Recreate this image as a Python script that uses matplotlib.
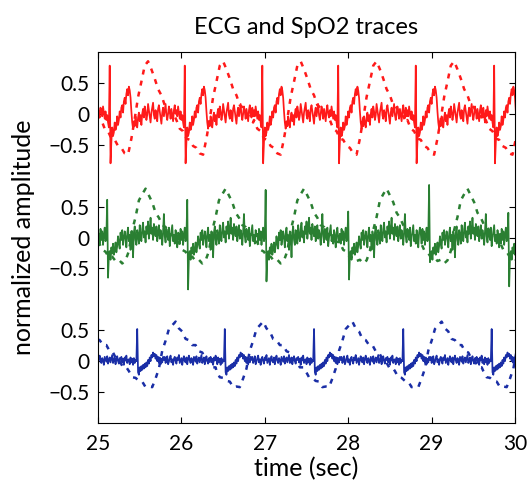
import numpy as np
import matplotlib
matplotlib.use('Agg')
import matplotlib.pyplot as plt

plt.rcParams['font.family'] = ['Lato', 'DejaVu Sans']

# R-peak times (sec) for each trace; first beat starts before the window
red_beats = [24.22, 25.14, 26.04, 26.97, 27.88, 28.81, 29.75]
green_beats = [24.15, 25.11, 26.07, 27.01, 28.00, 28.97, 29.92]
blue_beats = [24.40, 25.47, 26.52, 27.59, 28.66, 29.72]

# per-beat R and S amplitudes for the green ECG
green_r = [0.55, 0.61, 0.61, 0.77, 0.42, 0.85, 0.40]
green_s = [-0.60, -0.65, -0.84, -0.71, -0.68, -0.40, -0.79]

# one ECG beat, 0.01 s per sample, starting 0.10 s before the R peak
red_ecg = [0.06, -0.04, 0.12, 0.02, -0.08, 0.04, -0.10, -0.02, -0.14, -0.22,
           0.78, -0.80, -0.45, -0.22, -0.36, -0.30, -0.14, -0.26, -0.20, -0.04,
           -0.18, -0.10, 0.04, -0.06, 0.10, 0.14, 0.02, 0.20, 0.26, 0.16,
           0.32, 0.40, 0.30, 0.44, 0.38, 0.26, 0.04, -0.14, -0.24, -0.12,
           -0.20, -0.04, -0.16, -0.22, -0.06, 0.02, -0.12, -0.02, -0.18, 0.00,
           0.08,
           -0.06, 0.12, 0.04, -0.10, -0.02, 0.16, 0.06, -0.04, -0.14, 0.02,
           0.10, 0.18, -0.02, -0.08, 0.06, 0.00, -0.12, 0.08, 0.14, 0.04,
           -0.06, -0.16, 0.02, 0.10, -0.04, 0.06, 0.16, -0.02, -0.10, 0.00,
           0.12, 0.04, -0.08, 0.08, -0.02, -0.12, 0.06, 0.14, 0.00, -0.06,
           0.10, -0.04, -0.14, 0.04, 0.12, -0.02, 0.06]
green_ecg = [0.06, -0.10, 0.14, -0.04, 0.10, -0.12, 0.04, 0.16, -0.06, 0.02,
             0.60, -0.60,
             -0.30, -0.22, -0.36, -0.16, -0.26, -0.10, -0.28, -0.20, -0.08, -0.24,
             -0.14, 0.02, -0.10, -0.18, 0.08, -0.04, 0.12, -0.12, -0.02, 0.10,
             0.00, -0.16, 0.06, 0.16, -0.06, 0.04, -0.20, 0.10, 0.02, -0.32,
             0.08, 0.18, -0.04, -0.12, 0.12, 0.04, -0.10, 0.20, 0.02, -0.06,
             0.14, 0.24, 0.00, 0.10, -0.08, 0.18, 0.06, 0.26, -0.02, 0.12,
             0.32, 0.06, 0.16, -0.04, 0.22, 0.10, 0.02, 0.18, -0.06, 0.08,
             0.20, -0.02, 0.12, 0.04, -0.12, 0.10, 0.38, 0.02, -0.08, 0.14,
             0.06, -0.04, 0.16, -0.14, 0.00, 0.10, 0.20, -0.06, 0.04, -0.10,
             0.12, 0.02, -0.16, 0.08, 0.16, -0.02, -0.08, 0.10, 0.04, 0.14]
blue_ecg = [0.03, -0.05, 0.06, -0.02, 0.04, -0.06, 0.05, -0.03, 0.02, 0.00,
            0.52, -0.18,
            -0.22, -0.10, -0.16, -0.08, -0.14, -0.06, -0.12, -0.04, -0.10, -0.02,
            -0.08, 0.02, -0.04, 0.06, 0.00, 0.10, 0.06, 0.14, 0.08, 0.12,
            0.04, 0.10, 0.00, 0.07, -0.03, 0.06, -0.05, 0.04, -0.02, 0.07,
            0.02, 0.07, -0.03, 0.01, 0.08, -0.05, -0.01, 0.05, 0.09, -0.02,
            0.03, -0.06, 0.04, 0.07, 0.00, -0.04, 0.06, 0.02, 0.10, -0.03,
            0.01, 0.05, -0.06, 0.03, 0.08, 0.00, -0.02, 0.06, -0.05, 0.04,
            0.09, 0.01, -0.03, 0.05, 0.02, -0.06, 0.07, 0.03, -0.01, 0.08,
            -0.04, 0.02, 0.06, -0.02, 0.04, 0.10, -0.03, 0.01, 0.06, -0.05,
            0.03, 0.08, 0.00, -0.04, 0.05, 0.02, 0.07, -0.02, 0.04, -0.06,
            0.06, 0.01, 0.09, -0.03, 0.02, 0.05, -0.04, 0.06]

# one pulse-oximeter cycle, 0.04 s per sample, same start as the ECG beat
red_spo2 = [-0.10, -0.24, -0.28, -0.40, -0.42, -0.52, -0.55, -0.64, -0.66, -0.40,
            -0.08, 0.27, 0.52, 0.78, 0.85, 0.72, 0.57, 0.40, 0.30, 0.14,
            0.10, -0.02, -0.04, -0.14, -0.16, -0.26, -0.28]
green_spo2 = [-0.08, -0.20, -0.23, -0.32, -0.31, -0.38, -0.36, -0.42, -0.37, -0.22,
              0.12, 0.33, 0.60, 0.70, 0.79, 0.68, 0.57, 0.40, 0.32, 0.20,
              0.17, 0.06, 0.04, -0.06, -0.07, -0.14, -0.15, -0.22]
blue_spo2 = [-0.16, -0.26, -0.27, -0.32, -0.33, -0.42, -0.41, -0.42, -0.28, -0.12,
             0.17, 0.33, 0.52, 0.58, 0.64, 0.53, 0.48, 0.36, 0.34, 0.26,
             0.26, 0.16, 0.14, 0.03, 0.00, -0.10, -0.10, -0.18, -0.19, -0.26]

offsets = [2, 0, -2]
colors = ['#ff1a1a', '#2a7f32', '#1a2ea6']
tick_vals = [0.5, 0, -0.5]
tick_text = ['0.5', '0', '\u22120.5']


def assemble(beats, shape, step, r_amp=None, s_amp=None, start=-0.10):
    ts, vs = [], []
    for i, tb in enumerate(beats):
        offs = start + step * np.arange(len(shape))
        vals = np.array(shape, dtype=float)
        if r_amp is not None:
            vals[10] = r_amp[i]
            vals[11] = s_amp[i]
        if i < len(beats) - 1:
            keep = offs < beats[i + 1] - tb + start - 1e-9
            offs, vals = offs[keep], vals[keep]
        ts.append(tb + offs)
        vs.append(vals)
    return np.concatenate(ts), np.concatenate(vs)


traces = [
    (assemble(red_beats, red_ecg, 0.01), assemble(red_beats, red_spo2, 0.04)),
    (assemble(green_beats, green_ecg, 0.01, green_r, green_s),
     assemble(green_beats, green_spo2, 0.04)),
    (assemble(blue_beats, blue_ecg, 0.01), assemble(blue_beats, blue_spo2, 0.04)),
]

fig = plt.figure(figsize=(5.31, 4.93), dpi=100)
ax = fig.add_axes([0.1846, 0.142, 0.7853, 0.7525])

for (ecg, spo2), off, c in zip(traces, offsets, colors):
    ax.plot(ecg[0], ecg[1] + off, color=c, lw=1.25)
    ax.plot(spo2[0], spo2[1] + off, color=c, lw=1.8, ls=(0, (2.0, 2.5)))

yt, yl = [], []
for off in offsets:
    for v, s in zip(tick_vals, tick_text):
        yt.append(off + v)
        yl.append(s)

ax.set_xlim(25, 30)
ax.set_ylim(-3, 3)
ax.set_yticks(yt)
ax.set_yticklabels(yl)
ax.set_xticks([25, 26, 27, 28, 29, 30])
ax.tick_params(direction='in', top=True, right=True, length=4, labelsize=15)
ax.tick_params(axis='x', pad=8)
ax.tick_params(axis='y', pad=6)
ax.set_xlabel('time (sec)', fontsize=18, labelpad=2)
ax.set_ylabel('normalized amplitude', fontsize=18, labelpad=10)
ax.set_title('ECG and SpO2 traces', fontsize=17, pad=13)

fig.savefig('out.png', dpi=100)
